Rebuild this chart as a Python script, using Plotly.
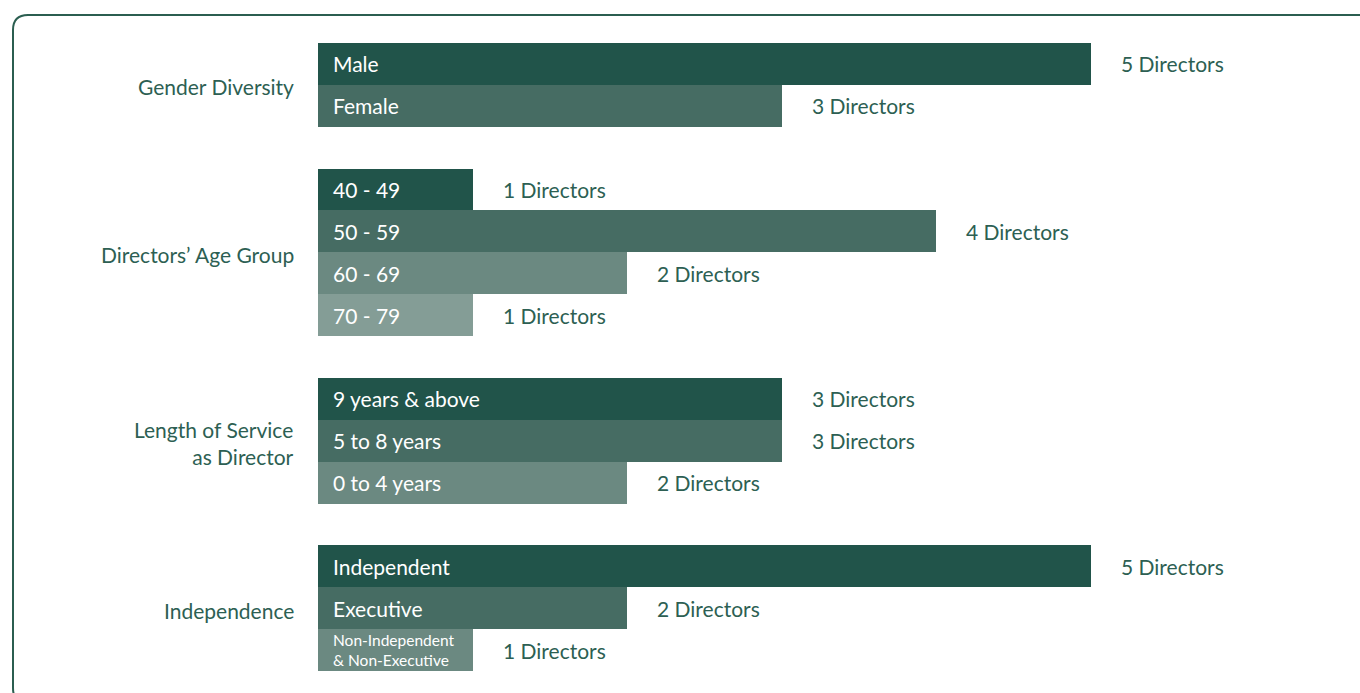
import plotly.graph_objects as go

# ---- data ----
groups = ["Gender Diversity", "Directors’ Age Group", "Length of Service<br>as Director", "Independence"]
gender_cats = ["Male", "Female"]
gender_vals = [5, 3]
age_cats = ["40 - 49", "50 - 59", "60 - 69", "70 - 79"]
age_vals = [1, 4, 2, 1]
service_cats = ["9 years & above", "5 to 8 years", "0 to 4 years"]
service_vals = [3, 3, 2]
indep_cats = ["Independent", "Executive", "Non-Independent<br>& Non-Executive"]
indep_vals = [5, 2, 1]
value_suffix = " Directors"

shades = ["#21544a", "#466c63", "#6b8981", "#849d96"]
text_color = "#2d5f53"
FONT = "Lato, 'Open Sans', sans-serif"
FS = 21

W, H = 1360, 693
ML, MT, MB = 318, 43, 22
PW = W - ML
PH = H - MT - MB
px_per_unit = 154.6
xmax = PW / px_per_unit

group_data = [(gender_cats, gender_vals), (age_cats, age_vals),
              (service_cats, service_vals), (indep_cats, indep_vals)]

fig = go.Figure()
annotations = []
row = 0
for gname, (cats, vals) in zip(groups, group_data):
    start = row
    ys = list(range(row, row + len(cats)))
    fig.add_trace(go.Bar(
        x=vals, y=ys, orientation="h", width=1.0,
        marker=dict(color=shades[:len(cats)], line=dict(width=0)),
        hoverinfo="skip", showlegend=False,
    ))
    for i, (c, v) in enumerate(zip(cats, vals)):
        small = "<br>" in c
        annotations.append(dict(
            x=0, y=ys[i], xref="x", yref="y", text=c, showarrow=False,
            xanchor="left", xshift=13, yanchor="middle", yshift=0 if small else 1 if False else 0,
            font=dict(family=FONT, size=15.5 if small else FS, color="white"),
            align="left",
        ))
        annotations.append(dict(
            x=v, y=ys[i], xref="x", yref="y", text=f"{v}{value_suffix}", showarrow=False,
            xanchor="left", xshift=28, yanchor="middle",
            font=dict(family=FONT, size=FS, color=text_color),
        ))
    center = (start + row + len(cats) - 1) / 2
    annotations.append(dict(
        x=0, y=center, xref="paper", yref="y", text=gname, showarrow=False,
        xanchor="right", xshift=-22, yanchor="middle", yshift=-2, align="right",
        font=dict(family=FONT, size=FS, color=text_color),
    ))
    row += len(cats) + 1

nrows = row - 2  # index of last row

# rounded border (pixel -> paper)
def px(x):
    return (x - ML) / PW
def py(y):
    return 1 - (y - MT) / PH

x0, y0, x1, y1, r = 13, 15, 1380, 703, 15
path = (f"M {px(x0+r)},{py(y0)} L {px(x1-r)},{py(y0)} "
        f"Q {px(x1)},{py(y0)} {px(x1)},{py(y0+r)} L {px(x1)},{py(y1-r)} "
        f"Q {px(x1)},{py(y1)} {px(x1-r)},{py(y1)} L {px(x0+r)},{py(y1)} "
        f"Q {px(x0)},{py(y1)} {px(x0)},{py(y1-r)} L {px(x0)},{py(y0+r)} "
        f"Q {px(x0)},{py(y0)} {px(x0+r)},{py(y0)} Z")

fig.update_layout(
    width=W, height=H,
    margin=dict(l=ML, r=0, t=MT, b=MB, pad=0),
    paper_bgcolor="white", plot_bgcolor="white",
    barmode="overlay", bargap=0,
    xaxis=dict(range=[0, xmax], visible=False, fixedrange=True),
    yaxis=dict(range=[nrows + 0.5, -0.5], visible=False, fixedrange=True),
    annotations=annotations,
    shapes=[dict(type="path", path=path, xref="paper", yref="paper",
                 line=dict(color="#2b5e50", width=2), fillcolor="rgba(0,0,0,0)", layer="below")],
    font=dict(family=FONT),
)

fig.write_html("out.html", config={"displayModeBar": False},
               post_script="document.body.style.margin='0';document.body.style.overflow='hidden';")
